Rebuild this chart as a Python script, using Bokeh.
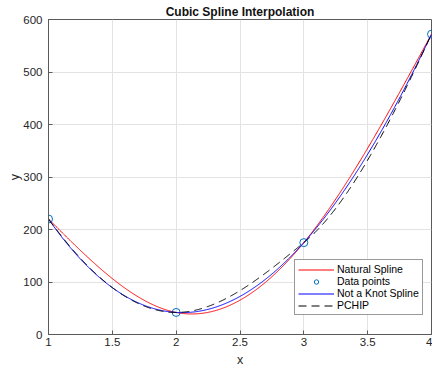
import numpy as np
from bokeh.plotting import figure
from bokeh.models import FixedTicker, Legend, LegendItem, Range1d
from bokeh.embed import file_html
from bokeh.resources import INLINE

# ---- data ----
x_data = [1.0, 2.0, 3.0, 4.0]
y_data = [220.0, 42.0, 175.0, 572.0]
x_ticks = [1, 1.5, 2, 2.5, 3, 3.5, 4]
x_tick_labels = ["1", "1.5", "2", "2.5", "3", "3.5", "4"]
y_ticks = [0, 100, 200, 300, 400, 500, 600]
y_tick_labels = ["0", "100", "200", "300", "400", "500", "600"]
series_names = ["Natural Spline", "Data points", "Not a Knot Spline", "PCHIP"]

xd = np.array(x_data)
yd = np.array(y_data)
xs = np.linspace(xd[0], xd[-1], 601)


def natural_spline(x, y, xq):
    n = len(x)
    h = np.diff(x)
    A = np.zeros((n, n))
    b = np.zeros(n)
    A[0, 0] = 1
    A[-1, -1] = 1
    for i in range(1, n - 1):
        A[i, i - 1] = h[i - 1]
        A[i, i] = 2 * (h[i - 1] + h[i])
        A[i, i + 1] = h[i]
        b[i] = 6 * ((y[i + 1] - y[i]) / h[i] - (y[i] - y[i - 1]) / h[i - 1])
    M = np.linalg.solve(A, b)
    out = np.empty_like(xq)
    for j, t in enumerate(xq):
        i = min(max(np.searchsorted(x, t, side="right") - 1, 0), n - 2)
        hi = h[i]
        a = (x[i + 1] - t) / hi
        c = (t - x[i]) / hi
        out[j] = (a * y[i] + c * y[i + 1]
                  + ((a ** 3 - a) * M[i] + (c ** 3 - c) * M[i + 1]) * hi ** 2 / 6)
    return out


def not_a_knot(x, y, xq):
    # with four points the not-a-knot spline is the interpolating cubic
    coef = np.polyfit(x, y, len(x) - 1)
    return np.polyval(coef, xq)


def pchip(x, y, xq):
    n = len(x)
    h = np.diff(x)
    dl = np.diff(y) / h
    d = np.zeros(n)
    for k in range(1, n - 1):
        if np.sign(dl[k - 1]) * np.sign(dl[k]) > 0:
            w1 = 2 * h[k] + h[k - 1]
            w2 = h[k] + 2 * h[k - 1]
            d[k] = (w1 + w2) / (w1 / dl[k - 1] + w2 / dl[k])

    def end(h0, h1, d0, d1):
        s = ((2 * h0 + h1) * d0 - h0 * d1) / (h0 + h1)
        if np.sign(s) != np.sign(d0):
            s = 0.0
        elif np.sign(d0) != np.sign(d1) and abs(s) > abs(3 * d0):
            s = 3 * d0
        return s

    d[0] = end(h[0], h[1], dl[0], dl[1])
    d[-1] = end(h[-1], h[-2], dl[-1], dl[-2])
    out = np.empty_like(xq)
    for j, t in enumerate(xq):
        i = min(max(np.searchsorted(x, t, side="right") - 1, 0), n - 2)
        hi = h[i]
        s = (t - x[i]) / hi
        h00 = 2 * s ** 3 - 3 * s ** 2 + 1
        h10 = s ** 3 - 2 * s ** 2 + s
        h01 = -2 * s ** 3 + 3 * s ** 2
        h11 = s ** 3 - s ** 2
        out[j] = h00 * y[i] + h10 * hi * d[i] + h01 * y[i + 1] + h11 * hi * d[i + 1]
    return out


y_nat = natural_spline(xd, yd, xs)
y_nak = not_a_knot(xd, yd, xs)
y_pch = pchip(xd, yd, xs)

FONT = "Liberation Sans"
AX = "#5a5a5a"
TXT = "#262626"

p = figure(width=432, height=369, output_backend="svg", toolbar_location=None,
           x_range=Range1d(1, 4), y_range=Range1d(0, 600),
           min_border_left=48, min_border_right=1, min_border_top=19,
           min_border_bottom=34, title="Cubic Spline Interpolation")

p.title.text_font = FONT
p.title.text_font_size = "12px"
p.title.text_font_style = "bold"
p.title.text_color = "#111111"
p.title.align = "center"
p.title.standoff = 1
p.title.offset = 0

p.outline_line_color = AX
p.outline_line_width = 1
p.outline_line_alpha = 1
p.background_fill_color = "white"
p.border_fill_color = "white"

for ax, ticks, labels, name in [(p.xaxis[0], x_ticks, x_tick_labels, "x"),
                                (p.yaxis[0], y_ticks, y_tick_labels, "y")]:
    ax.ticker = FixedTicker(ticks=ticks)
    ax.major_label_overrides = {float(t): l for t, l in zip(ticks, labels)}
    ax.axis_label = name
    ax.axis_label_text_font = FONT
    ax.axis_label_text_font_size = "12.5px"
    ax.axis_label_text_font_style = "normal"
    ax.axis_label_text_color = TXT
    ax.major_label_text_font = FONT
    ax.major_label_text_font_size = "11.5px"
    ax.major_label_text_color = TXT
    ax.axis_line_color = AX
    ax.major_tick_line_color = AX
    ax.major_tick_in = 4
    ax.major_tick_out = 0
    ax.minor_tick_line_color = None

p.xaxis.major_label_standoff = 3
p.xaxis.axis_label_standoff = 4
p.yaxis.major_label_standoff = 6
p.yaxis.axis_label_standoff = -2

p.grid.grid_line_color = "#e3e3e3"
p.grid.grid_line_width = 1

r_nat = p.line(xs, y_nat, line_color="#ff0000", line_width=1)
r_pts = p.scatter(x_data, y_data, marker="circle", size=8, fill_color=None,
                  line_color="#0072bd", line_width=1)
r_nak = p.line(xs, y_nak, line_color="#0000ff", line_width=1)
r_pch = p.line(xs, y_pch, line_color="black", line_width=1, line_dash="8 5")

legend = Legend(items=[LegendItem(label=series_names[0], renderers=[r_nat]),
                       LegendItem(label=series_names[1], renderers=[r_pts]),
                       LegendItem(label=series_names[2], renderers=[r_nak]),
                       LegendItem(label=series_names[3], renderers=[r_pch])],
                location=(246, 19))
legend.label_text_font = FONT
legend.label_text_font_size = "10.5px"
legend.label_text_color = "black"
legend.label_height = 11
legend.glyph_height = 11
legend.glyph_width = 36
legend.label_standoff = 3
legend.spacing = 0
legend.padding = 3
legend.margin = 0
legend.border_line_color = "#333333"
legend.border_line_width = 1
legend.background_fill_color = "white"
legend.background_fill_alpha = 1
p.add_layout(legend, "center")

open("out.html", "w").write(file_html(p, INLINE))
